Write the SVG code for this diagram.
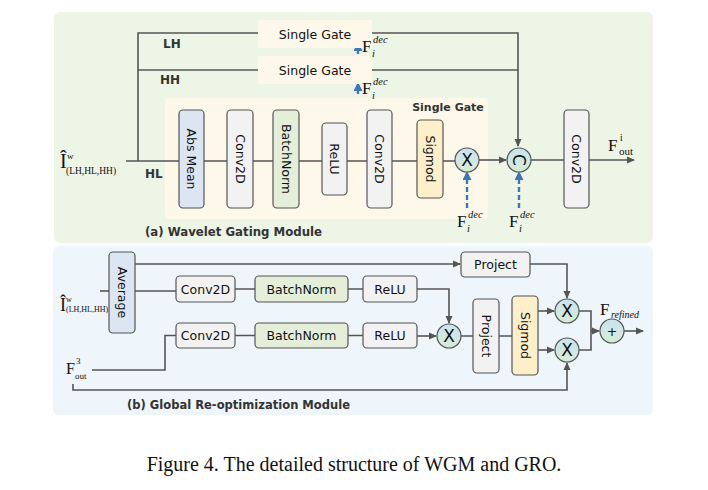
<svg xmlns="http://www.w3.org/2000/svg" width="708" height="490" viewBox="0 0 708 490">
<defs>
<marker id="ah" markerWidth="8" markerHeight="8" refX="7" refY="4" orient="auto" markerUnits="userSpaceOnUse"><path d="M0,0.5 L8,4 L0,7.5 z" fill="#555"/></marker>
<marker id="bh" markerWidth="9" markerHeight="9" refX="6" refY="4.5" orient="auto" markerUnits="userSpaceOnUse"><path d="M0,0 L9,4.5 L0,9 z" fill="#3f74b5"/></marker>
<linearGradient id="cg" x1="0" y1="0" x2="0" y2="1"><stop offset="0" stop-color="#c9e3f1"/><stop offset="1" stop-color="#d6ecd6"/></linearGradient>
</defs>
<style>
.box{stroke:#555;stroke-width:1.2}
.gray{fill:#f2f2f2}.blue{fill:#dce6f2}.green{fill:#e3efd9}.yel{fill:#fcefc9}
.ln{stroke:#555;stroke-width:1.6;fill:none}
.bl{stroke:#3f74b5;stroke-width:2.4;fill:none}
.dash{stroke-dasharray:5,3}
.circ{fill:url(#cg);stroke:#555;stroke-width:1.2}
.lbl{font-family:"DejaVu Sans",sans-serif;font-size:12.5px;fill:#111}
.op{font-family:"DejaVu Sans",sans-serif;font-size:17px;fill:#111}
.bold{font-family:"DejaVu Sans",sans-serif;font-weight:bold;fill:#333}
.m{font-family:"Liberation Serif",serif;fill:#111}
.it{font-style:italic}
</style>
<rect x="0" y="0" width="708" height="490" fill="#ffffff"/>
<!-- panels -->
<rect id="panelA" x="54" y="12" width="599" height="231" rx="6" fill="#ecf5e6"/>
<rect id="panelB" x="53" y="246" width="600" height="169" rx="6" fill="#eef5fb"/>
<rect x="165" y="98" width="323" height="121" rx="4" fill="#fdf8e9"/>
<text class="bold" x="448" y="111" font-size="11" text-anchor="middle">Single Gate</text>
<text class="bold" x="145" y="236" font-size="13" textLength="177" lengthAdjust="spacingAndGlyphs">(a) Wavelet Gating Module</text>
<text class="bold" x="127" y="409" font-size="13" textLength="223" lengthAdjust="spacingAndGlyphs">(b) Global Re-optimization Module</text>

<!-- connectors -->
<g id="connectors">
<path class="ln" d="M126,161 H455"/>
<path class="ln" d="M138,161 V33 H258"/>
<path class="ln" d="M138,70 H258"/>
<path class="ln" d="M372,33 H518 V146" marker-end="url(#ah)"/>
<path class="ln" d="M372,70 H518"/>
<path class="ln" d="M479,160 H506" marker-end="url(#ah)"/>
<path class="ln" d="M531,160 H564"/>
<path class="ln" d="M589,160 H634" marker-end="url(#ah)"/>
<path class="bl" d="M358,54 V45" marker-end="url(#bh)"/>
<path class="bl" d="M358,94 V85" marker-end="url(#bh)"/>
<path class="bl dash" d="M467,208 V174" marker-end="url(#bh)"/>
<path class="bl dash" d="M519,208 V174" marker-end="url(#bh)"/>

<path class="ln" d="M100,291 H109"/>
<path class="ln" d="M135,264 H460" marker-end="url(#ah)"/>
<path class="ln" d="M135,291 H176"/>
<path class="ln" d="M235,289 H255 M348,289 H363"/>
<path class="ln" d="M417,289 H449 V323" marker-end="url(#ah)"/>
<path class="ln" d="M235,335.5 H255 M348,335.5 H363"/>
<path class="ln" d="M417,336 H436" marker-end="url(#ah)"/>
<path class="ln" d="M461,336 H473 M499,336 H512"/>
<path class="ln" d="M538,311 H554" marker-end="url(#ah)"/>
<path class="ln" d="M538,350 H554" marker-end="url(#ah)"/>
<path class="ln" d="M530,264 H567 V298" marker-end="url(#ah)"/>
<path class="ln" d="M579,311 H591 V350 H579"/>
<path class="ln" d="M591,331 H599" marker-end="url(#ah)"/>
<path class="ln" d="M624,331 H643" marker-end="url(#ah)"/>
<path class="ln" d="M92,370 H165 V335.5 H176"/>
<path class="ln" d="M73,384 V390 H567 V363" marker-end="url(#ah)"/>
</g>

<!-- top single gates -->
<g id="sg1"><rect x="258" y="20" width="114" height="28" fill="#fdf8e9"/><text class="lbl" x="315" y="39" text-anchor="middle">Single Gate</text></g>
<g id="sg2"><rect x="258" y="56" width="114" height="28" fill="#fdf8e9"/><text class="lbl" x="315" y="75" text-anchor="middle">Single Gate</text></g>

<!-- labels LH HH HL -->
<text class="bold" x="163" y="48" font-size="12">LH</text>
<text class="bold" x="160" y="84" font-size="12">HH</text>
<text class="bold" x="145" y="178" font-size="12">HL</text>

<!-- input label top -->
<g id="inA">
<text class="m" x="60" y="168" font-size="20">Î</text>
<text class="m" x="67" y="159" font-size="9">w</text>
<text class="m" x="66" y="174" font-size="9.5">(LH,HL,HH)</text>
</g>

<!-- WGM vertical boxes -->
<g id="absmean"><rect class="box blue" x="179" y="110" width="25" height="98" rx="4"/><text class="lbl" transform="translate(191.5,159) rotate(90)" text-anchor="middle" dominant-baseline="central">Abs Mean</text></g>
<g id="conv2d_a1"><rect class="box gray" x="227" y="110" width="26" height="98" rx="4"/><text class="lbl" transform="translate(240,159) rotate(90)" text-anchor="middle" dominant-baseline="central">Conv2D</text></g>
<g id="bn_a"><rect class="box green" x="273" y="110" width="26" height="98" rx="4"/><text class="lbl" transform="translate(286,159) rotate(90)" text-anchor="middle" dominant-baseline="central">BatchNorm</text></g>
<g id="relu_a"><rect class="box gray" x="322" y="123" width="25" height="72" rx="4"/><text class="lbl" transform="translate(334.5,159) rotate(90)" text-anchor="middle" dominant-baseline="central">ReLU</text></g>
<g id="conv2d_a2"><rect class="box gray" x="367" y="110" width="25" height="98" rx="4"/><text class="lbl" transform="translate(379.5,159) rotate(90)" text-anchor="middle" dominant-baseline="central">Conv2D</text></g>
<g id="sigmod_a"><rect class="box yel" x="417" y="120" width="26" height="78" rx="4"/><text class="lbl" transform="translate(430,159) rotate(90)" text-anchor="middle" dominant-baseline="central">Sigmod</text></g>
<g id="mul_a"><circle class="circ" cx="467" cy="160" r="12"/><text class="op" x="467" y="160" text-anchor="middle" dominant-baseline="central">X</text></g>
<g id="cat_a"><circle class="circ" cx="519" cy="160" r="12"/><text class="op" transform="translate(519,160) rotate(90)" font-size="15" text-anchor="middle" dominant-baseline="central">C</text></g>
<g id="conv2d_a3"><rect class="box gray" x="564" y="110" width="25" height="98" rx="4"/><text class="lbl" transform="translate(576.5,159) rotate(90)" text-anchor="middle" dominant-baseline="central">Conv2D</text></g>

<!-- F dec labels -->
<g id="fdec1"><text class="m" x="362" y="52" font-size="17">F</text><text class="m it" x="373" y="43" font-size="10.5">dec</text><text class="m it" x="372" y="57" font-size="10.5">i</text></g>
<g id="fdec2"><text class="m" x="362" y="94" font-size="17">F</text><text class="m it" x="373" y="85" font-size="10.5">dec</text><text class="m it" x="372" y="99" font-size="10.5">i</text></g>
<g id="fdec3"><text class="m" x="457" y="227" font-size="17">F</text><text class="m it" x="468" y="218" font-size="10.5">dec</text><text class="m it" x="467" y="232" font-size="10.5">i</text></g>
<g id="fdec4"><text class="m" x="509" y="227" font-size="17">F</text><text class="m it" x="520" y="218" font-size="10.5">dec</text><text class="m it" x="519" y="232" font-size="10.5">i</text></g>
<g id="fout"><text class="m" x="608" y="151" font-size="17">F</text><text class="m" x="620" y="141" font-size="9.5">i</text><text class="m" x="619" y="155" font-size="11">out</text></g>

<!-- GRO -->
<g id="inB">
<text class="m" x="60" y="311" font-size="18">Î</text>
<text class="m" x="66" y="302" font-size="8">w</text>
<text class="m" x="66" y="312" font-size="8">(LH,HL,HH)</text>
</g>
<g id="f3out"><text class="m" x="66" y="374" font-size="16">F</text><text class="m" x="76" y="364" font-size="9">3</text><text class="m" x="75" y="379" font-size="9">out</text></g>
<g id="average"><rect class="box blue" x="109" y="252" width="26" height="81" rx="4"/><text class="lbl" transform="translate(122,292.5) rotate(90)" text-anchor="middle" dominant-baseline="central">Average</text></g>
<g id="conv2d_b1"><rect class="box gray" x="176" y="276" width="59" height="26" rx="4"/><text class="lbl" x="205.5" y="289" text-anchor="middle" dominant-baseline="central">Conv2D</text></g>
<g id="bn_b1"><rect class="box green" x="255" y="276" width="93" height="26" rx="4"/><text class="lbl" x="301.5" y="289" text-anchor="middle" dominant-baseline="central">BatchNorm</text></g>
<g id="relu_b1"><rect class="box gray" x="363" y="276" width="54" height="26" rx="4"/><text class="lbl" x="390" y="289" text-anchor="middle" dominant-baseline="central">ReLU</text></g>
<g id="conv2d_b2"><rect class="box gray" x="176" y="323" width="59" height="25" rx="4"/><text class="lbl" x="205.5" y="335.5" text-anchor="middle" dominant-baseline="central">Conv2D</text></g>
<g id="bn_b2"><rect class="box green" x="255" y="323" width="93" height="25" rx="4"/><text class="lbl" x="301.5" y="335.5" text-anchor="middle" dominant-baseline="central">BatchNorm</text></g>
<g id="relu_b2"><rect class="box gray" x="363" y="323" width="54" height="25" rx="4"/><text class="lbl" x="390" y="335.5" text-anchor="middle" dominant-baseline="central">ReLU</text></g>
<g id="mul_b1"><circle class="circ" cx="449" cy="336" r="12"/><text class="op" x="449" y="336" text-anchor="middle" dominant-baseline="central">X</text></g>
<g id="project_v"><rect class="box gray" x="473" y="299" width="26" height="74" rx="4"/><text class="lbl" transform="translate(486,336) rotate(90)" text-anchor="middle" dominant-baseline="central">Project</text></g>
<g id="sigmod_b"><rect class="box yel" x="512" y="296" width="26" height="79" rx="4"/><text class="lbl" transform="translate(525,335.5) rotate(90)" text-anchor="middle" dominant-baseline="central">Sigmod</text></g>
<g id="project_h"><rect class="box gray" x="461" y="252" width="69" height="25" rx="4"/><text class="lbl" x="495.5" y="264.5" text-anchor="middle" dominant-baseline="central">Project</text></g>
<g id="mul_b2"><circle class="circ" cx="567" cy="311" r="12"/><text class="op" x="567" y="311" text-anchor="middle" dominant-baseline="central">X</text></g>
<g id="mul_b3"><circle class="circ" cx="567" cy="350" r="12"/><text class="op" x="567" y="350" text-anchor="middle" dominant-baseline="central">X</text></g>
<g id="add_b"><circle class="circ" cx="612" cy="331" r="12"/><text class="lbl" x="612" y="331" font-size="11" text-anchor="middle" dominant-baseline="central">+</text></g>
<g id="frefined"><text class="m" x="600" y="315" font-size="17">F</text><text class="m it" x="611" y="318" font-size="10">refined</text></g>

<text class="m" x="354" y="471" font-size="20" text-anchor="middle">Figure 4. The detailed structure of WGM and GRO.</text>
</svg>
